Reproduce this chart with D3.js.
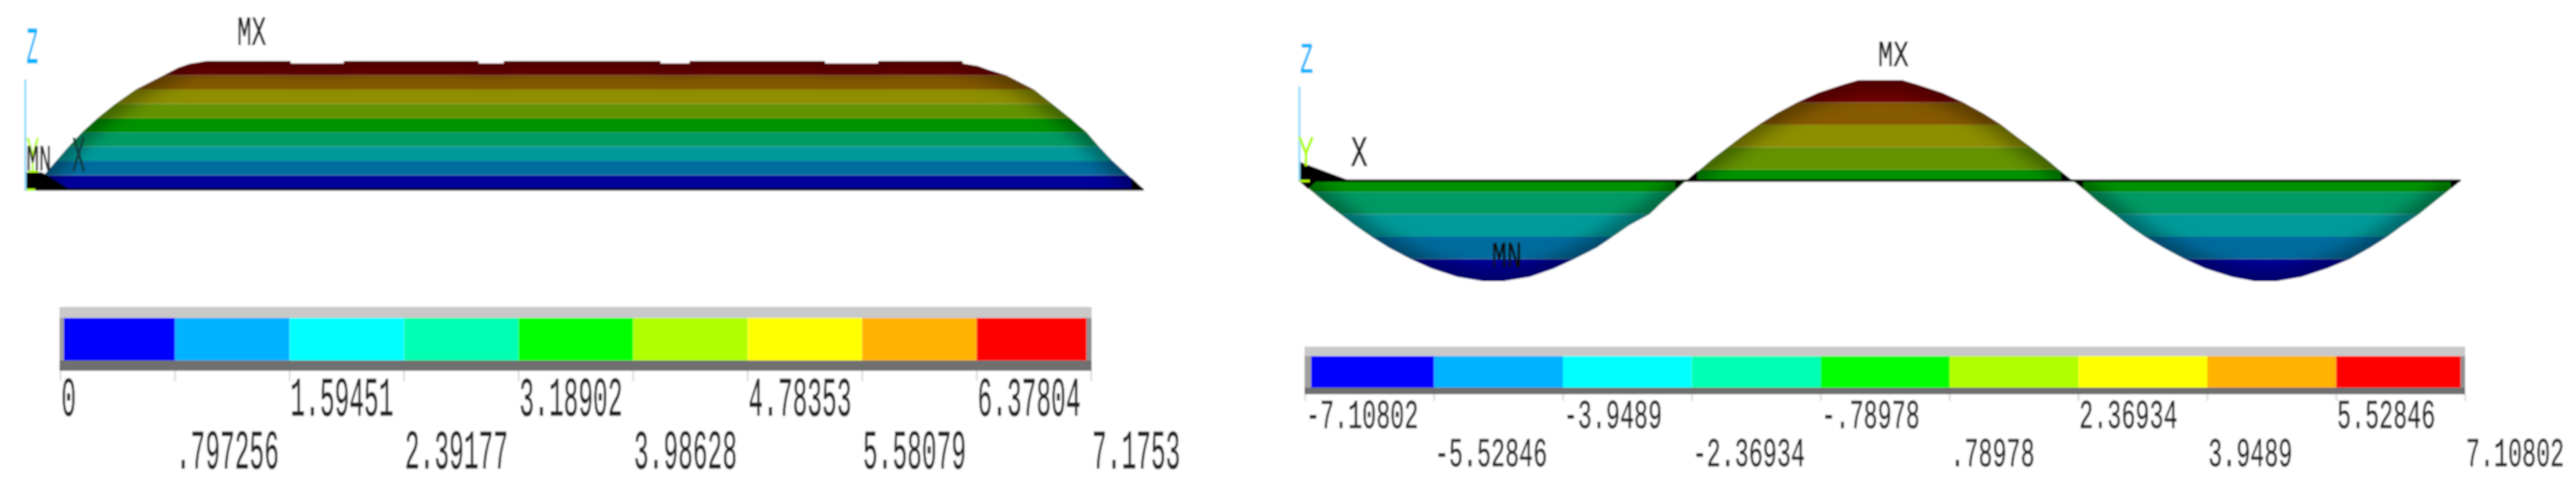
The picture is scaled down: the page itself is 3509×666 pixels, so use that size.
<!DOCTYPE html>
<html>
<head>
<meta charset="utf-8">
<style>
  html, body { margin: 0; padding: 0; background: #fff; }
  svg { display: block; }
  text { font-family: "Liberation Mono", "DejaVu Sans Mono", monospace; }
</style>
<script src="https://cdnjs.cloudflare.com/ajax/libs/d3/7.8.5/d3.min.js"></script>
</head>
<body>
<svg width="3509" height="666"></svg>
<script>
// Two contour plots with their colour legends

// Band colours, low to high
const legendColors = ["#0000ff", "#00b2ff", "#00ffff", "#00ffb2", "#00ff00", "#b2ff00", "#ffff00", "#ffb200", "#ff0000"];
const contourColors = ["#00009a", "#006c9e", "#009a9a", "#009a64", "#009200", "#649200", "#8e8e00", "#865a00", "#720000"];

// Left plot: position along the member (%) and value
const leftPos = [0, 0.7, 1.71, 2.8, 3.9, 5.1, 6.5, 8.1, 9.9, 12.4, 13.7, 14.7, 16.3, 23.75, 23.76, 28.5, 28.51, 40.55, 40.56, 42.8, 42.81, 56.8, 56.81, 59.4, 59.41, 71.5, 71.51, 76.25, 76.26, 83.8, 83.81, 85.2, 86, 87.7, 90.2, 91.8, 93.4, 94.9, 96, 97.2, 98.6, 100];
const leftVal = [0, 0, 0.797, 1.594, 2.392, 3.189, 3.986, 4.784, 5.581, 6.378, 6.8, 7.01, 7.1753, 7.1753, 7.03, 7.03, 7.1753, 7.1753, 7.03, 7.03, 7.1753, 7.1753, 7.03, 7.03, 7.1753, 7.1753, 7.03, 7.03, 7.1753, 7.1753, 7.03, 6.89, 6.7, 6.378, 5.581, 4.784, 3.986, 3.189, 2.392, 1.594, 0.797, 0];
const leftLevels = [0, 0.797256, 1.59451, 2.39177, 3.18902, 3.98628, 4.78353, 5.58079, 6.37804, 7.1753];
const leftLabels = ["0", ".797256", "1.59451", "2.39177", "3.18902", "3.98628", "4.78353", "5.58079", "6.37804", "7.1753"];
// black stubs at the two supports, [position, value]
const leftStubs = [
  [[0, 0.95], [1.5, 0.95], [1.9, 0.82], [4.0, 0], [0, 0]],
  [[98.9, 0.66], [100, 0], [98.9, 0]]
];

// Right plot
const rightPos = [0, 1.2, 2.34, 3.6, 4.86, 6.25, 7.77, 9.6, 11.43, 13.64, 15.92, 17.56, 19.9, 21.98, 23.75, 25.65, 27.04, 28.43, 30.2, 31.2, 32.3, 33.35, 34.55, 35.69, 36.95, 38.2, 39.6, 41.1, 42.9, 44.7, 46.9, 48.2, 51.9, 53.2, 55.4, 57.2, 58.95, 60.45, 61.7, 63, 64.25, 65.4, 66.6, 67.8, 68.9, 70.2, 71.4, 72.8, 74.4, 76.2, 78, 80.3, 82.3, 84.1, 86.3, 88.5, 90.5, 92.2, 93.7, 95, 96.4, 97.6, 98.8, 100];
const rightVal = [0, -0.79, -1.58, -2.37, -3.16, -3.95, -4.74, -5.53, -6.2, -6.8, -7.108, -7.108, -6.8, -6.2, -5.53, -4.74, -3.95, -3.16, -2.37, -1.58, -0.79, 0, 0.79, 1.58, 2.37, 3.16, 3.95, 4.74, 5.53, 6.2, 6.8, 7.108, 7.108, 6.8, 6.2, 5.53, 4.74, 3.95, 3.16, 2.37, 1.58, 0.79, 0, -0.79, -1.58, -2.37, -3.16, -3.95, -4.74, -5.53, -6.2, -6.8, -7.108, -7.108, -6.8, -6.2, -5.53, -4.74, -3.95, -3.16, -2.37, -1.58, -0.79, 0];
const rightLevels = [-7.10802, -5.52846, -3.9489, -2.36934, -0.78978, 0.78978, 2.36934, 3.9489, 5.52846, 7.10802];
const rightLabels = ["-7.10802", "-5.52846", "-3.9489", "-2.36934", "-.78978", ".78978", "2.36934", "3.9489", "5.52846", "7.10802"];
const rightStubs = [
  [[0, 1.35], [4.4, 0], [0, 0]],
  [[0, 0], [1.6, 0], [0.8, -0.6]],
  [[32.4, 0], [33.25, 0], [32.4, -0.57]],
  [[33.35, 0], [34.3, 0.67], [34.3, 0]],
  [[65.6, 0.6], [66.6, 0], [65.6, 0]],
  [[66.7, 0], [67.5, 0], [67.5, -0.55]],
  [[99.1, 0], [100, 0], [99.2, -0.55]]
];

const svg = d3.select("svg");
const defs = svg.append("defs");

// slight blur, the original is an upscaled screenshot
defs.append("filter").attr("id", "soft")
    .attr("filterUnits", "userSpaceOnUse")
    .attr("x", 0).attr("y", 0).attr("width", 3509).attr("height", 666)
    .append("feGaussianBlur").attr("stdDeviation", 0.9);
defs.append("filter").attr("id", "glow")
    .attr("filterUnits", "userSpaceOnUse")
    .attr("x", 0).attr("y", 0).attr("width", 3509).attr("height", 666)
    .append("feGaussianBlur").attr("stdDeviation", 12);

const root = svg.append("g").attr("filter", "url(#soft)");
root.append("rect").attr("width", 3509).attr("height", 666).attr("fill", "#fff");

// Squeezed monospace text, the screenshot was stretched in y
function label(x, y, str, size, sx, color) {
  const c = color || "#222";
  root.append("text")
      .attr("transform", `translate(${x},${y}) scale(${sx},1)`)
      .attr("font-size", size)
      .attr("fill", c)
      .attr("stroke", c)
      .attr("stroke-width", 0.7)
      .text(str);
}

function drawPlot(id, pos, val, levels, stubs, x, y) {
  const pts = pos.map((p, i) => [p, val[i]]);
  const base = y(Math.max(0, levels[0]));
  const shape = d3.area().x(d => x(d[0])).y0(base).y1(d => y(d[1]));

  defs.append("clipPath").attr("id", "clip-" + id)
      .append("path").attr("d", shape(pts));

  const g = root.append("g").attr("clip-path", `url(#clip-${id})`);

  // one rect per contour band
  g.selectAll("rect.band")
      .data(contourColors)
      .enter().append("rect")
      .attr("class", "band")
      .attr("x", x(0))
      .attr("width", x(100) - x(0))
      .attr("y", (d, i) => y(levels[i + 1]))
      .attr("height", (d, i) => y(levels[i]) - y(levels[i + 1]))
      .attr("fill", d => d);

  // bands get a bit darker close to the outline
  g.append("path")
      .attr("d", d3.line().x(d => x(d[0])).y(d => y(d[1]))(pts))
      .attr("fill", "none")
      .attr("stroke", "#000")
      .attr("stroke-width", 26)
      .attr("stroke-opacity", 0.4)
      .attr("filter", "url(#glow)");

  // black base line and support stubs
  root.append("line")
      .attr("x1", x(0)).attr("x2", x(100))
      .attr("y1", base).attr("y2", base)
      .attr("stroke", "#000").attr("stroke-width", 3);

  const stub = d3.line().x(d => x(d[0])).y(d => y(d[1]));
  root.selectAll("path.stub-" + id)
      .data(stubs)
      .enter().append("path")
      .attr("class", "stub-" + id)
      .attr("d", d => stub(d) + "Z")
      .attr("fill", "#000");
}

function drawLegend(levels, labels, x, box, row1, row2, size, sx) {
  // frame
  root.append("rect").attr("x", box.x0).attr("y", box.top).attr("width", box.x1 - box.x0).attr("height", box.y0 - box.top).attr("fill", "#c9c9c9");
  root.append("rect").attr("x", box.x0).attr("y", box.y1).attr("width", box.x1 - box.x0).attr("height", box.bottom - box.y1).attr("fill", "#707070");
  root.append("rect").attr("x", box.x0).attr("y", box.y0).attr("width", box.c0 - box.x0).attr("height", box.y1 - box.y0).attr("fill", "#a0a0a0");
  root.append("rect").attr("x", box.c1).attr("y", box.y0).attr("width", box.x1 - box.c1).attr("height", box.y1 - box.y0).attr("fill", "#909090");

  root.selectAll("rect.swatch-" + box.id)
      .data(legendColors)
      .enter().append("rect")
      .attr("class", "swatch-" + box.id)
      .attr("x", (d, i) => Math.max(x(levels[i]), box.c0))
      .attr("width", (d, i) => Math.min(x(levels[i + 1]), box.c1) - Math.max(x(levels[i]), box.c0))
      .attr("y", box.y0)
      .attr("height", box.y1 - box.y0)
      .attr("fill", d => d);

  levels.forEach((v, i) => {
    root.append("line")
        .attr("x1", x(v)).attr("x2", x(v))
        .attr("y1", box.bottom).attr("y2", box.tick)
        .attr("stroke", "#e2e2e2").attr("stroke-width", 3);
    label(x(v) + 1, i % 2 ? row2 : row1, labels[i], size, sx);
  });
}

// Left plot
const xLeft = d3.scaleLinear().domain([0, 100]).range([34, 1558]);
const yLeft = d3.scaleLinear().domain([0, 7.1753]).range([258, 83]);
drawPlot("left", leftPos, leftVal, leftLevels, leftStubs, xLeft, yLeft);

const legendLeft = d3.scaleLinear().domain([0, 7.1753]).range([82.5, 1486.5]);
drawLegend(leftLevels, leftLabels, legendLeft,
    {id: "l", x0: 81, x1: 1487, c0: 87, c1: 1480, top: 418, y0: 433, y1: 491, bottom: 505, tick: 519},
    566, 638, 76, 0.44);

// Right plot
const xRight = d3.scaleLinear().domain([0, 100]).range([1769, 3352]);
const yRight = d3.scaleLinear().domain([-7.10802, 7.10802]).range([383, 109]);
drawPlot("right", rightPos, rightVal, rightLevels, rightStubs, xRight, yRight);

const legendRight = d3.scaleLinear().domain([-7.10802, 7.10802]).range([1778, 3358]);
drawLegend(rightLevels, rightLabels, legendRight,
    {id: "r", x0: 1777, x1: 3358, c0: 1786, c1: 3352, top: 472, y0: 485, y1: 528, bottom: 537, tick: 546},
    583, 635, 55, 0.58);

// Axis triads and MX / MN tags
const triads = [
  {x: 34.5, y1: 108, y2: 259},
  {x: 1770, y1: 118, y2: 246}
];
root.selectAll("line.triad")
    .data(triads)
    .enter().append("line")
    .attr("class", "triad")
    .attr("x1", d => d.x).attr("x2", d => d.x)
    .attr("y1", d => d.y1).attr("y2", d => d.y2)
    .attr("stroke", "#8fdcff").attr("stroke-width", 3);

// little Y-axis stubs at the origin
const yStubs = [
  {x: 36, y: 257, w: 12, h: 3},
  {x: 38, y: 232, w: 14, h: 3},
  {x: 1770, y: 245, w: 14, h: 3}
];
root.selectAll("rect.ystub")
    .data(yStubs)
    .enter().append("rect")
    .attr("class", "ystub")
    .attr("x", d => d.x).attr("y", d => d.y)
    .attr("width", d => d.w).attr("height", d => d.h)
    .attr("fill", "#b2ff00");

label(36, 86, "Z", 70, 0.38, "#00b4ff");
label(36, 233, "Y", 68, 0.42, "#b2ff00");
label(36, 232, "MN", 50, 0.57);
label(98, 233, "X", 68, 0.45, "#123c40");
label(323, 61, "MX", 55, 0.6);

label(1771, 99, "Z", 59, 0.5, "#00b4ff");
label(1768, 226, "Y", 59, 0.62, "#b2ff00");
label(1840, 226, "X", 59, 0.65);
label(2558, 90, "MX", 50, 0.7);
label(2032, 364, "MN", 50, 0.68, "#0a0a0a");
</script>
</body>
</html>
